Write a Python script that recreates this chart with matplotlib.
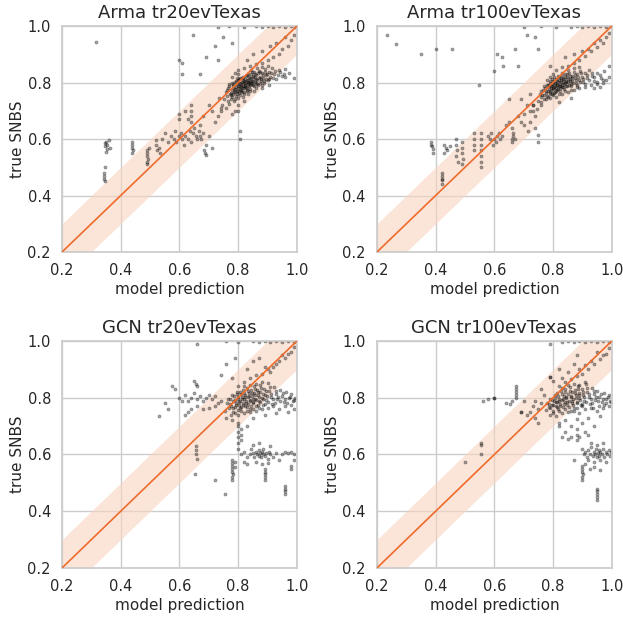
import matplotlib
matplotlib.use("Agg")
import matplotlib.pyplot as plt
import numpy as np
import seaborn as sns

TITLES = ["Arma tr20evTexas", "Arma tr100evTexas", "GCN tr20evTexas", "GCN tr100evTexas"]

# points (model prediction, true SNBS)
arma20_pts = [
    (0.752,0.741),(0.758,0.768),(0.763,0.752),(0.767,0.781),(0.771,0.760),(0.774,0.742),(0.778,0.772),(0.781,0.789),
    (0.783,0.758),(0.786,0.777),(0.788,0.801),(0.790,0.766),(0.792,0.785),(0.794,0.752),(0.796,0.794),(0.797,0.771),
    (0.799,0.808),(0.801,0.781),(0.802,0.762),(0.804,0.797),(0.806,0.786),(0.807,0.815),(0.809,0.774),(0.811,0.792),
    (0.812,0.803),(0.814,0.768),(0.815,0.788),(0.817,0.821),(0.818,0.797),(0.820,0.779),(0.821,0.806),(0.823,0.792),
    (0.825,0.814),(0.826,0.783),(0.828,0.801),(0.829,0.770),(0.831,0.826),(0.833,0.795),(0.834,0.809),(0.836,0.787),
    (0.838,0.818),(0.840,0.801),(0.842,0.776),(0.843,0.831),(0.845,0.812),(0.847,0.794),(0.849,0.823),(0.851,0.805),
    (0.853,0.786),(0.855,0.838),(0.857,0.816),(0.860,0.799),(0.862,0.828),(0.865,0.809),(0.868,0.791),(0.871,0.842),
    (0.874,0.821),(0.877,0.804),(0.880,0.833),(0.884,0.815),(0.888,0.797),(0.892,0.847),(0.896,0.826),(0.900,0.808),
    (0.905,0.838),(0.910,0.819),(0.916,0.851),(0.922,0.829),(0.930,0.812),(0.938,0.845),(0.948,0.824),(0.960,0.848),
    (0.972,0.833),
    (0.770,0.725),(0.785,0.735),(0.800,0.745),(0.815,0.750),(0.835,0.760),(0.855,0.770),(0.880,0.780),(0.905,0.790),
    (0.800,0.720),(0.820,0.735),(0.760,0.710),(0.790,0.700),(0.780,0.690),(0.745,0.720),(0.735,0.745),(0.740,0.700),
    (0.78,0.82),(0.79,0.835),(0.80,0.845),(0.82,0.85),(0.84,0.86),(0.86,0.865),(0.88,0.87),(0.90,0.88),(0.92,0.89),
    (0.94,0.90),(0.95,0.92),(0.97,0.93),(0.98,0.95),(0.99,0.97),(0.96,0.96),(0.93,0.94),(0.91,0.93),(0.88,0.91),
    (0.85,0.90),(0.83,0.88),
    (0.86,0.999),(0.88,0.998),(0.90,0.999),(0.92,0.997),(0.94,0.999),(0.96,0.998),(0.98,0.999),(0.995,0.998),
    (0.82,0.998),(0.77,0.999),(0.73,0.998),
    (0.316,0.944),(0.647,0.97),(0.72,0.93),(0.61,0.87),(0.61,0.83),(0.60,0.88),(0.75,0.96),(0.78,0.94),(0.69,0.89),
    (0.73,0.88),(0.67,0.83),(0.96,0.82),(0.99,0.815),
    (0.54,0.60),(0.55,0.62),(0.56,0.59),(0.57,0.61),(0.58,0.60),(0.585,0.63),(0.59,0.59),(0.60,0.61),(0.605,0.62),
    (0.61,0.60),(0.615,0.58),(0.62,0.61),(0.63,0.60),(0.635,0.63),(0.64,0.59),(0.645,0.62),(0.65,0.64),(0.655,0.61),
    (0.66,0.60),(0.665,0.63),(0.67,0.61),(0.675,0.60),(0.68,0.62),(0.69,0.58),(0.70,0.61),(0.685,0.56),(0.687,0.55),
    (0.69,0.545),(0.71,0.57),(0.64,0.66),(0.64,0.68),(0.64,0.70),(0.64,0.72),(0.63,0.67),(0.62,0.70),(0.60,0.69),
    (0.60,0.67),(0.72,0.66),(0.73,0.68),(0.74,0.71),(0.71,0.70),(0.70,0.72),(0.67,0.65),(0.68,0.68),
    (0.345,0.575),(0.345,0.585),(0.35,0.59),(0.355,0.58),(0.36,0.595),(0.365,0.57),(0.355,0.565),(0.35,0.555),
    (0.345,0.50),(0.343,0.48),(0.343,0.47),(0.344,0.46),(0.345,0.45),
    (0.44,0.59),(0.44,0.58),(0.44,0.57),(0.442,0.56),(0.44,0.55),
    (0.49,0.56),(0.49,0.55),(0.49,0.54),(0.492,0.53),(0.49,0.52),(0.49,0.51),(0.495,0.57),
    (0.52,0.58),(0.525,0.56),(0.53,0.57),(0.535,0.55),(0.52,0.595),(0.806,0.63),(0.806,0.60),(0.80,0.70),
]
arma20_core = [
    (0.762,0.774),(0.769,0.788),(0.775,0.763),(0.779,0.749),(0.784,0.795),(0.787,0.767),(0.791,0.778),(0.793,0.806),
    (0.795,0.760),(0.798,0.787),(0.800,0.770),(0.803,0.812),(0.805,0.776),(0.807,0.798),(0.808,0.757),(0.810,0.784),
    (0.813,0.817),(0.816,0.781),(0.818,0.809),(0.819,0.766),(0.822,0.799),(0.824,0.786),(0.827,0.822),(0.829,0.809),
    (0.830,0.781),(0.832,0.797),(0.835,0.829),(0.837,0.803),(0.839,0.790),(0.841,0.815),(0.844,0.799),(0.846,0.836),
    (0.848,0.807),(0.850,0.791),(0.852,0.820),(0.856,0.803),(0.858,0.829),(0.861,0.811),(0.864,0.795),(0.867,0.834),
    (0.870,0.817),(0.873,0.799),(0.876,0.838),(0.879,0.812),(0.883,0.826),(0.887,0.806),(0.891,0.836),(0.895,0.814),
    (0.899,0.829),(0.904,0.811),(0.912,0.833),(0.919,0.815),(0.926,0.841),(0.935,0.826),(0.944,0.838),(0.955,0.830),
    (0.780,0.800),(0.770,0.795),(0.795,0.815),(0.800,0.830),(0.820,0.760),(0.840,0.770),(0.860,0.780),(0.880,0.790),
    (0.830,0.775),(0.810,0.770),(0.790,0.740),(0.765,0.735),(0.775,0.755),(0.865,0.850),(0.880,0.855),(0.900,0.860),
    (0.845,0.845),
]

arma100_pts = [
    (0.748,0.735),(0.755,0.760),(0.760,0.748),(0.765,0.772),(0.769,0.755),(0.773,0.781),(0.776,0.764),(0.779,0.792),
    (0.782,0.771),(0.784,0.750),(0.787,0.786),(0.789,0.768),(0.791,0.799),(0.793,0.779),(0.795,0.760),(0.797,0.791),
    (0.799,0.776),(0.801,0.806),(0.803,0.785),(0.805,0.767),(0.807,0.797),(0.809,0.780),(0.811,0.812),(0.813,0.790),
    (0.815,0.773),(0.817,0.803),(0.819,0.787),(0.821,0.818),(0.823,0.796),(0.825,0.779),(0.827,0.808),(0.829,0.792),
    (0.831,0.824),(0.833,0.801),(0.835,0.783),(0.837,0.813),(0.839,0.797),(0.842,0.829),(0.844,0.807),(0.846,0.789),
    (0.849,0.818),(0.851,0.801),(0.854,0.834),(0.857,0.812),(0.860,0.794),(0.863,0.824),(0.866,0.806),(0.870,0.839),
    (0.874,0.816),(0.878,0.798),(0.882,0.829),(0.887,0.810),(0.892,0.842),(0.897,0.820),(0.903,0.803),(0.909,0.834),
    (0.916,0.815),(0.924,0.846),(0.932,0.823),(0.941,0.806),(0.951,0.835),(0.962,0.817),(0.974,0.841),
    (0.73,0.72),(0.745,0.705),(0.76,0.73),(0.775,0.74),(0.79,0.745),(0.81,0.75),(0.83,0.76),(0.85,0.765),(0.87,0.775),
    (0.89,0.78),(0.91,0.785),(0.93,0.79),(0.95,0.795),(0.97,0.80),(0.94,0.78),(0.96,0.785),(0.98,0.81),(0.99,0.82),
    (0.72,0.70),(0.74,0.68),(0.70,0.69),(0.82,0.73),(0.86,0.745),
    (0.80,0.83),(0.81,0.845),(0.83,0.855),(0.85,0.86),(0.87,0.87),(0.89,0.88),(0.91,0.895),(0.93,0.91),(0.95,0.925),
    (0.97,0.94),(0.98,0.96),(0.99,0.975),(0.96,0.95),(0.94,0.94),(0.92,0.92),(0.90,0.91),(0.87,0.90),(0.84,0.89),
    (0.79,0.86),
    (0.86,0.998),(0.88,0.999),(0.90,0.998),(0.92,0.999),(0.94,0.997),(0.96,0.999),(0.98,0.998),(0.995,0.999),
    (0.81,0.998),(0.76,0.999),(0.70,0.998),
    (0.236,0.968),(0.264,0.936),(0.35,0.90),(0.40,0.92),(0.455,0.92),(0.547,0.79),(0.61,0.90),(0.63,0.86),
    (0.625,0.89),(0.67,0.92),(0.60,0.84),(0.71,0.97),(0.74,0.96),(0.68,0.86),(0.75,0.92),(0.99,0.86),
    (0.385,0.59),(0.385,0.58),(0.387,0.575),(0.39,0.565),(0.39,0.55),
    (0.42,0.48),(0.42,0.47),(0.42,0.46),(0.421,0.455),(0.42,0.44),
    (0.43,0.58),(0.435,0.57),(0.44,0.56),(0.43,0.55),(0.45,0.575),
    (0.47,0.60),(0.47,0.58),(0.472,0.56),(0.47,0.54),(0.475,0.52),
    (0.49,0.59),(0.49,0.57),(0.49,0.55),(0.492,0.53),(0.49,0.51),
    (0.53,0.62),(0.53,0.60),(0.532,0.58),(0.53,0.56),
    (0.555,0.62),(0.555,0.60),(0.556,0.58),(0.555,0.56),(0.555,0.54),(0.555,0.52),(0.555,0.50),
    (0.58,0.61),(0.585,0.60),(0.59,0.62),(0.60,0.60),(0.61,0.61),(0.615,0.62),(0.62,0.60),(0.605,0.59),(0.595,0.58),
    (0.625,0.61),(0.66,0.60),(0.665,0.61),(0.665,0.62),(0.67,0.60),(0.66,0.59),
    (0.64,0.65),(0.65,0.66),(0.66,0.64),(0.68,0.68),(0.69,0.66),(0.70,0.65),(0.715,0.63),(0.72,0.66),(0.73,0.70),
    (0.73,0.72),(0.747,0.615),(0.747,0.59),(0.74,0.64),(0.71,0.72),(0.69,0.74),(0.65,0.74),(0.72,0.76),
]
arma100_core = [
    (0.758,0.771),(0.764,0.757),(0.770,0.786),(0.775,0.769),(0.778,0.752),(0.782,0.793),(0.785,0.778),(0.788,0.761),
    (0.790,0.804),(0.792,0.787),(0.794,0.770),(0.796,0.811),(0.798,0.795),(0.800,0.779),(0.802,0.762),(0.804,0.818),
    (0.806,0.800),(0.808,0.786),(0.810,0.771),(0.812,0.806),(0.814,0.792),(0.816,0.778),(0.818,0.824),(0.820,0.808),
    (0.822,0.789),(0.824,0.769),(0.826,0.816),(0.828,0.801),(0.830,0.785),(0.832,0.832),(0.834,0.812),(0.836,0.795),
    (0.838,0.778),(0.841,0.820),(0.843,0.803),(0.845,0.786),(0.848,0.829),(0.850,0.811),(0.853,0.793),(0.856,0.822),
    (0.859,0.804),(0.862,0.787),(0.865,0.816),(0.869,0.800),(0.873,0.828),(0.877,0.808),(0.881,0.791),(0.886,0.821),
    (0.891,0.803),(0.896,0.833),(0.902,0.813),(0.908,0.796),(0.915,0.826),(0.923,0.808),(0.931,0.834),(0.940,0.818),
    (0.950,0.802),(0.960,0.828),(0.970,0.810),(0.780,0.810),(0.790,0.820),(0.800,0.755),(0.820,0.760),(0.840,0.770),
    (0.860,0.775),(0.880,0.785),(0.770,0.740),(0.760,0.720),(0.850,0.845),(0.870,0.850),(0.890,0.855),
]

gcn20_pts = [
    (0.755,0.752),(0.762,0.781),(0.768,0.764),(0.773,0.795),(0.777,0.771),(0.781,0.751),(0.784,0.788),(0.787,0.806),
    (0.790,0.768),(0.793,0.783),(0.796,0.812),(0.798,0.757),(0.801,0.794),(0.803,0.776),(0.806,0.821),(0.808,0.789),
    (0.811,0.766),(0.813,0.803),(0.815,0.781),(0.818,0.828),(0.820,0.795),(0.822,0.772),(0.825,0.811),(0.827,0.787),
    (0.830,0.836),(0.832,0.801),(0.835,0.778),(0.837,0.818),(0.840,0.793),(0.842,0.762),(0.845,0.826),(0.847,0.806),
    (0.850,0.784),(0.853,0.841),(0.855,0.815),(0.858,0.797),(0.861,0.771),(0.864,0.829),(0.867,0.808),(0.870,0.788),
    (0.873,0.846),(0.876,0.819),(0.880,0.799),(0.884,0.776),(0.888,0.832),(0.892,0.811),(0.896,0.791),(0.901,0.852),
    (0.906,0.823),(0.911,0.802),(0.916,0.779),(0.922,0.838),(0.928,0.814),(0.934,0.794),(0.941,0.827),(0.948,0.806),
    (0.956,0.786),(0.964,0.819),(0.972,0.799),(0.981,0.812),(0.990,0.792),
    (0.76,0.73),(0.78,0.72),(0.80,0.74),(0.82,0.745),(0.84,0.75),(0.86,0.755),(0.88,0.76),(0.90,0.765),(0.92,0.77),
    (0.94,0.76),(0.96,0.77),(0.98,0.775),(0.85,0.73),(0.89,0.74),(0.93,0.745),(0.97,0.75),(0.80,0.71),(0.83,0.70),
    (0.99,0.76),
    (0.60,0.80),(0.61,0.79),(0.62,0.81),(0.63,0.79),(0.64,0.80),(0.65,0.815),(0.66,0.795),(0.67,0.805),(0.68,0.79),
    (0.69,0.80),(0.70,0.81),(0.71,0.795),(0.72,0.805),(0.73,0.78),(0.74,0.79),(0.72,0.77),(0.70,0.765),(0.68,0.76),
    (0.66,0.77),(0.64,0.76),(0.63,0.75),(0.585,0.83),(0.575,0.84),(0.53,0.736),(0.55,0.78),(0.56,0.76),(0.62,0.74),
    (0.65,0.86),(0.655,0.85),(0.66,0.84),
    (0.80,0.84),(0.82,0.855),(0.84,0.87),(0.86,0.88),(0.88,0.885),(0.90,0.90),(0.92,0.91),(0.94,0.93),(0.96,0.94),
    (0.98,0.96),(0.99,0.98),(0.97,0.955),(0.95,0.95),(0.93,0.92),(0.91,0.89),(0.89,0.91),(0.87,0.94),(0.85,0.93),
    (0.83,0.90),(0.78,0.87),(0.76,0.92),(0.74,0.88),(0.79,0.94),
    (0.85,0.999),(0.87,0.998),(0.89,0.999),(0.91,0.998),(0.93,0.999),(0.95,0.997),(0.97,0.999),(0.99,0.998),
    (0.66,0.99),(0.76,0.999),(0.80,0.998),
    (0.80,0.62),(0.81,0.60),(0.82,0.61),(0.83,0.59),(0.84,0.60),(0.845,0.62),(0.85,0.605),(0.855,0.59),(0.86,0.61),
    (0.865,0.60),(0.87,0.615),(0.872,0.595),(0.875,0.605),(0.878,0.59),(0.88,0.61),(0.883,0.60),(0.886,0.62),
    (0.89,0.595),(0.895,0.605),(0.90,0.585),(0.905,0.61),(0.91,0.60),(0.92,0.59),(0.93,0.605),(0.94,0.58),
    (0.95,0.60),(0.96,0.61),(0.97,0.605),(0.98,0.61),(0.99,0.60),(0.86,0.575),(0.88,0.565),(0.90,0.57),(0.85,0.635),
    (0.87,0.64),(0.91,0.63),(0.83,0.565),(0.82,0.575),(0.78,0.58),
    (0.78,0.57),(0.78,0.56),(0.78,0.55),(0.78,0.54),(0.781,0.53),(0.78,0.52),(0.78,0.51),(0.79,0.575),(0.79,0.555),
    (0.89,0.55),(0.89,0.54),(0.891,0.53),(0.89,0.52),(0.89,0.51),
    (0.96,0.49),(0.96,0.48),(0.961,0.47),(0.96,0.46),
    (0.80,0.64),(0.80,0.66),(0.80,0.68),(0.80,0.70),(0.81,0.65),(0.81,0.67),(0.81,0.69),
    (0.755,0.46),(0.72,0.51),(0.656,0.63),(0.656,0.60),(0.653,0.53),(0.656,0.615),(0.66,0.585),
    (0.98,0.56),(0.98,0.55),(0.99,0.58),
]
gcn20_core = [
    (0.765,0.795),(0.772,0.778),(0.779,0.809),(0.783,0.764),(0.788,0.792),(0.792,0.775),(0.795,0.821),(0.799,0.801),
    (0.802,0.784),(0.805,0.763),(0.809,0.812),(0.812,0.794),(0.816,0.773),(0.819,0.818),(0.823,0.801),(0.826,0.783),
    (0.829,0.767),(0.833,0.824),(0.836,0.806),(0.839,0.789),(0.843,0.772),(0.846,0.815),(0.849,0.797),(0.852,0.780),
    (0.856,0.832),(0.859,0.808),(0.862,0.791),(0.866,0.775),(0.869,0.821),(0.872,0.803),(0.876,0.785),(0.879,0.836),
    (0.883,0.812),(0.886,0.794),(0.890,0.778),(0.894,0.825),(0.898,0.805),(0.903,0.786),(0.908,0.838),(0.913,0.814),
    (0.918,0.795),(0.924,0.782),(0.930,0.823),(0.937,0.803),(0.944,0.788),(0.952,0.816),(0.960,0.797),(0.968,0.782),
    (0.977,0.804),(0.986,0.787),(0.994,0.800),(0.810,0.755),(0.830,0.755),(0.850,0.760),(0.870,0.765),(0.790,0.745),
    (0.775,0.740),(0.820,0.840),(0.840,0.845),(0.860,0.850),(0.880,0.855),
]

gcn100_pts = [
    (0.775,0.758),(0.781,0.782),(0.786,0.766),(0.791,0.797),(0.795,0.774),(0.799,0.755),(0.802,0.790),(0.806,0.808),
    (0.809,0.771),(0.812,0.785),(0.815,0.815),(0.818,0.761),(0.821,0.797),(0.824,0.779),(0.827,0.823),(0.830,0.792),
    (0.833,0.769),(0.836,0.806),(0.839,0.784),(0.842,0.831),(0.845,0.798),(0.848,0.775),(0.851,0.813),(0.854,0.789),
    (0.857,0.838),(0.860,0.803),(0.863,0.780),(0.866,0.821),(0.869,0.795),(0.872,0.765),(0.875,0.828),(0.878,0.808),
    (0.881,0.786),(0.884,0.843),(0.887,0.816),(0.890,0.798),(0.894,0.773),(0.898,0.830),(0.902,0.809),(0.906,0.789),
    (0.911,0.848),(0.916,0.820),(0.921,0.801),(0.926,0.778),(0.932,0.834),(0.938,0.812),(0.944,0.792),(0.951,0.825),
    (0.958,0.804),(0.965,0.784),(0.973,0.816),(0.981,0.796),(0.990,0.808),(0.996,0.785),
    (0.79,0.74),(0.81,0.735),(0.83,0.745),(0.85,0.75),(0.87,0.755),(0.89,0.745),(0.91,0.76),(0.93,0.765),(0.95,0.755),
    (0.97,0.765),(0.99,0.77),(0.84,0.72),(0.88,0.725),(0.92,0.73),(0.96,0.735),(0.86,0.70),(0.90,0.71),(0.82,0.71),
    (0.94,0.70),(0.91,0.68),(0.92,0.67),
    (0.76,0.78),(0.75,0.76),(0.74,0.79),(0.73,0.77),(0.72,0.75),(0.70,0.79),(0.69,0.75),(0.675,0.84),(0.675,0.83),
    (0.675,0.82),(0.675,0.81),(0.675,0.80),(0.653,0.777),(0.64,0.78),(0.66,0.79),(0.60,0.80),(0.71,0.74),(0.74,0.73),
    (0.75,0.71),(0.77,0.81),(0.76,0.83),
    (0.82,0.84),(0.84,0.855),(0.86,0.865),(0.88,0.875),(0.90,0.885),(0.92,0.90),(0.94,0.92),(0.96,0.935),(0.98,0.955),
    (0.99,0.975),(0.97,0.95),(0.95,0.96),(0.93,0.93),(0.91,0.915),(0.89,0.90),(0.87,0.92),(0.85,0.89),(0.83,0.87),
    (0.79,0.874),(0.80,0.86),(0.82,0.90),(0.88,0.95),
    (0.79,0.99),(0.87,0.998),(0.89,0.999),(0.91,0.998),(0.93,0.999),(0.95,0.998),(0.97,0.999),(0.99,0.998),
    (0.85,0.999),(0.83,0.998),
    (0.90,0.62),(0.905,0.60),(0.91,0.61),(0.915,0.59),(0.92,0.615),(0.925,0.60),(0.93,0.625),(0.935,0.595),
    (0.94,0.61),(0.943,0.60),(0.946,0.62),(0.949,0.59),(0.952,0.605),(0.955,0.615),(0.958,0.595),(0.961,0.61),
    (0.965,0.60),(0.97,0.62),(0.975,0.59),(0.98,0.61),(0.985,0.60),(0.99,0.615),(0.995,0.595),(0.998,0.61),
    (0.92,0.58),(0.94,0.575),(0.96,0.58),(0.98,0.575),(0.93,0.64),(0.95,0.635),(0.97,0.64),(0.91,0.565),
    (0.925,0.55),(0.94,0.555),(0.96,0.545),
    (0.90,0.56),(0.90,0.55),(0.90,0.54),(0.902,0.53),(0.90,0.52),(0.90,0.51),
    (0.948,0.48),(0.948,0.47),(0.949,0.46),(0.948,0.45),(0.948,0.44),
    (0.88,0.65),(0.88,0.67),(0.88,0.69),(0.89,0.66),(0.83,0.66),(0.84,0.68),(0.85,0.655),(0.82,0.70),(0.87,0.58),
    (0.556,0.633),(0.556,0.603),(0.556,0.640),(0.50,0.574),(0.60,0.80),(0.69,0.75),(0.79,0.874),(0.86,0.66),
    (0.56,0.79),(0.58,0.795),
]
gcn100_core = [
    (0.785,0.779),(0.791,0.763),(0.796,0.792),(0.801,0.775),(0.805,0.798),(0.809,0.784),(0.813,0.766),(0.817,0.806),
    (0.821,0.788),(0.825,0.771),(0.829,0.812),(0.833,0.796),(0.837,0.779),(0.841,0.819),(0.845,0.801),(0.849,0.785),
    (0.853,0.768),(0.857,0.824),(0.861,0.807),(0.865,0.790),(0.869,0.774),(0.873,0.816),(0.877,0.799),(0.881,0.782),
    (0.885,0.831),(0.889,0.810),(0.893,0.792),(0.897,0.777),(0.902,0.822),(0.907,0.803),(0.912,0.786),(0.917,0.836),
    (0.922,0.812),(0.928,0.795),(0.934,0.781),(0.940,0.823),(0.947,0.804),(0.954,0.789),(0.962,0.814),(0.970,0.797),
    (0.979,0.783),(0.988,0.801),(0.995,0.790),(0.820,0.755),(0.840,0.760),(0.860,0.755),(0.880,0.765),(0.900,0.770),
    (0.800,0.745),(0.830,0.835),(0.850,0.845),(0.870,0.850),(0.890,0.845),(0.910,0.855),(0.935,0.765),(0.955,0.770),
    (0.975,0.775),
]

PANELS = [
    arma20_pts + arma20_core,
    arma100_pts + arma100_core,
    gcn20_pts + gcn20_core,
    gcn100_pts + gcn100_core,
]
TICKS = [0.2, 0.4, 0.6, 0.8, 1.0]
BAND = 0.1

sns.set_theme(style="whitegrid")
plt.rcParams["font.family"] = ["DejaVu Sans"]
plt.rcParams["axes.edgecolor"] = "#cccccc"

fig = plt.figure(figsize=(6.23, 6.2), dpi=100)
positions = [
    [0.0995, 0.5935, 0.377, 0.3645],
    [0.605, 0.5935, 0.377, 0.3645],
    [0.0995, 0.0839, 0.377, 0.3661],
    [0.605, 0.0839, 0.377, 0.3661],
]

line_x = np.array([0.2, 1.0])
for pos, title, pts in zip(positions, TITLES, PANELS):
    ax = fig.add_axes(pos)
    ax.fill_between(line_x, line_x - BAND, line_x + BAND, color="#f9d5c1", alpha=0.6, lw=0, zorder=1)
    arr = np.array(pts)
    ax.scatter(arr[:, 0], arr[:, 1], s=5, color="black", alpha=0.35, linewidths=0.5, zorder=2)
    ax.plot(line_x, line_x, color="#ef6b2c", lw=1.2, zorder=3)
    ax.set_xlim(0.2, 1.0)
    ax.set_ylim(0.2, 1.0)
    ax.set_xticks(TICKS)
    ax.set_yticks(TICKS)
    ax.set_title(title, fontsize=13)
    ax.set_xlabel("model prediction", fontsize=11, labelpad=3)
    ax.set_ylabel("true SNBS", fontsize=11, labelpad=2)
    ax.tick_params(labelsize=10.5, pad=2)

fig.savefig("out.png", dpi=100)
